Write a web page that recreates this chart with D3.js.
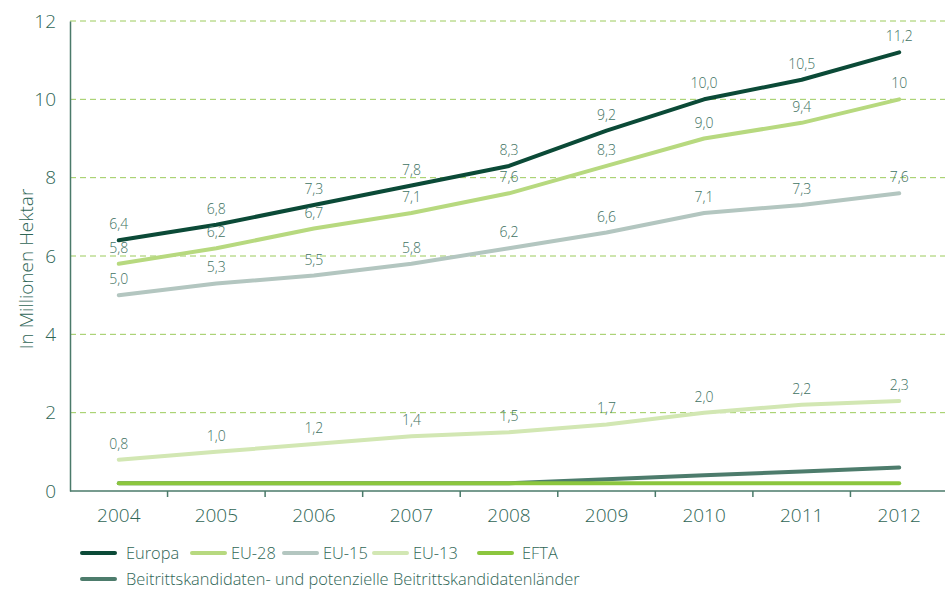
<!DOCTYPE html>
<html>
<head>
<meta charset="utf-8">
<script src="https://cdn.jsdelivr.net/npm/d3@7"></script>
<style>
  body { margin: 0; background: #fff; }
  svg text { font-family: "Open Sans", "Noto Sans", sans-serif; }
</style>
</head>
<body>
<div id="vis"></div>
<script>
// data
var years = ['2004', '2005', '2006', '2007', '2008', '2009', '2010', '2011', '2012'];
var europa = [6.4, 6.8, 7.3, 7.8, 8.3, 9.2, 10.0, 10.5, 11.2];
var eu28 = [5.8, 6.2, 6.7, 7.1, 7.6, 8.3, 9.0, 9.4, 10];
var eu15 = [5.0, 5.3, 5.5, 5.8, 6.2, 6.6, 7.1, 7.3, 7.6];
var eu13 = [0.8, 1.0, 1.2, 1.4, 1.5, 1.7, 2.0, 2.2, 2.3];
var efta = [0.2, 0.2, 0.2, 0.2, 0.2, 0.2, 0.2, 0.2, 0.2];
var kandidaten = [0.2, 0.2, 0.2, 0.2, 0.2, 0.3, 0.4, 0.5, 0.6];
var eu28Labels = ['5,8', '6,2', '6,7', '7,1', '7,6', '8,3', '9,0', '9,4', '10'];
var yTicks = [0, 2, 4, 6, 8, 10, 12];

var width = 945;
var height = 589;
var margin = { left: 70, right: 0, top: 21, bottom: 98 };

var fmt = function (v) { return d3.format('.1f')(v).replace('.', ','); };

// drawing order: first in list is drawn first
var series = [
  { name: 'EU-13', values: eu13, color: '#d2e7b3', labels: true },
  { name: 'EU-15', values: eu15, color: '#b3c6c0', labels: true },
  { name: 'EU-28', values: eu28, color: '#b7d97f', labels: true, text: eu28Labels },
  { name: 'Europa', values: europa, color: '#0b4a37', labels: true },
  { name: 'Beitrittskandidaten- und potenzielle Beitrittskandidatenländer', values: kandidaten, color: '#4d7c6c', labels: false },
  { name: 'EFTA', values: efta, color: '#8cc63e', labels: false }
];

var svg = d3.select('#vis').append('svg')
  .attr('width', width)
  .attr('height', height);

var x = d3.scaleBand()
  .domain(years)
  .range([margin.left, 948]);

var y = d3.scaleLinear()
  .domain([0, 12])
  .range([height - margin.bottom, margin.top]);

var axisColor = '#4a7a6a';
var textColor = '#2f6656';

// dashed grid lines
svg.append('g').selectAll('line')
  .data(yTicks.filter(function (d) { return d > 0; }))
  .enter().append('line')
  .attr('x1', margin.left).attr('x2', width)
  .attr('y1', function (d) { return y(d); })
  .attr('y2', function (d) { return y(d); })
  .attr('stroke', '#9ccb5c')
  .attr('stroke-width', 1)
  .attr('stroke-dasharray', '6,4');

// y axis
var yAxis = svg.append('g')
  .attr('transform', 'translate(' + margin.left + ',0)')
  .call(d3.axisLeft(y).tickValues(yTicks).tickSize(0).tickPadding(14));
yAxis.select('.domain').attr('stroke', axisColor).attr('stroke-width', 1.5);
yAxis.selectAll('text')
  .attr('fill', textColor)
  .style('font-size', '19px')
  .style('font-weight', 300);

// x axis
var xAxis = svg.append('g')
  .attr('transform', 'translate(0,' + y(0) + ')')
  .call(d3.axisBottom(x).tickSize(0).tickPadding(18));
xAxis.select('.domain').attr('stroke', axisColor).attr('stroke-width', 1.5)
  .attr('d', 'M' + margin.left + ',0H' + width);
xAxis.selectAll('text')
  .attr('fill', textColor)
  .style('font-size', '19px')
  .style('font-weight', 300);

// ticks between the years
svg.append('g').selectAll('line')
  .data(years.slice(1))
  .enter().append('line')
  .attr('x1', function (d) { return x(d); })
  .attr('x2', function (d) { return x(d); })
  .attr('y1', y(0)).attr('y2', y(0) + 6)
  .attr('stroke', axisColor)
  .attr('stroke-width', 1.5);

// y title
svg.append('text')
  .attr('transform', 'translate(33,269) rotate(-90)')
  .attr('text-anchor', 'middle')
  .attr('fill', textColor)
  .style('font-size', '19px')
  .style('font-weight', 300)
  .text('In Millionen Hektar');

var line = d3.line()
  .x(function (d, i) { return x(years[i]) + x.bandwidth() / 2; })
  .y(function (d) { return y(d); })
  .curve(d3.curveLinear);

series.forEach(function (s) {
  svg.append('path')
    .datum(s.values)
    .attr('d', line)
    .attr('fill', 'none')
    .attr('stroke', s.color)
    .attr('stroke-width', 4)
    .attr('stroke-linejoin', 'round')
    .attr('stroke-linecap', 'round');
});

// value labels
series.filter(function (s) { return s.labels; }).forEach(function (s) {
  svg.append('g').selectAll('text')
    .data(s.values)
    .enter().append('text')
    .attr('x', function (d, i) { return x(years[i]) + x.bandwidth() / 2; })
    .attr('y', function (d) { return y(d) - 11; })
    .attr('text-anchor', 'middle')
    .attr('fill', '#3e7262')
    .style('font-size', '14px')
    .style('font-weight', 300)
    .text(function (d, i) { return s.text ? s.text[i] : fmt(d); });
});

// legend
var legendItems = [
  { s: 'Europa', x: 82, tx: 126, y: 553 },
  { s: 'EU-28', x: 192, tx: 231, y: 553 },
  { s: 'EU-15', x: 284, tx: 323, y: 553 },
  { s: 'EU-13', x: 374, tx: 413, y: 553 },
  { s: 'EFTA', x: 479, tx: 522, y: 553 },
  { s: 'Beitrittskandidaten- und potenzielle Beitrittskandidatenländer', x: 82, tx: 126, y: 579 }
];

var legend = svg.append('g');
legendItems.forEach(function (item) {
  var s = series.filter(function (d) { return d.name === item.s; })[0];
  legend.append('line')
    .attr('x1', item.x).attr('x2', item.x + 33)
    .attr('y1', item.y).attr('y2', item.y)
    .attr('stroke', s.color)
    .attr('stroke-width', 4)
    .attr('stroke-linecap', 'round');
  legend.append('text')
    .attr('x', item.tx)
    .attr('y', item.y + 6)
    .attr('fill', textColor)
    .style('font-size', '16.4px')
    .style('font-weight', 300)
    .text(s.name);
});
</script>
</body>
</html>
